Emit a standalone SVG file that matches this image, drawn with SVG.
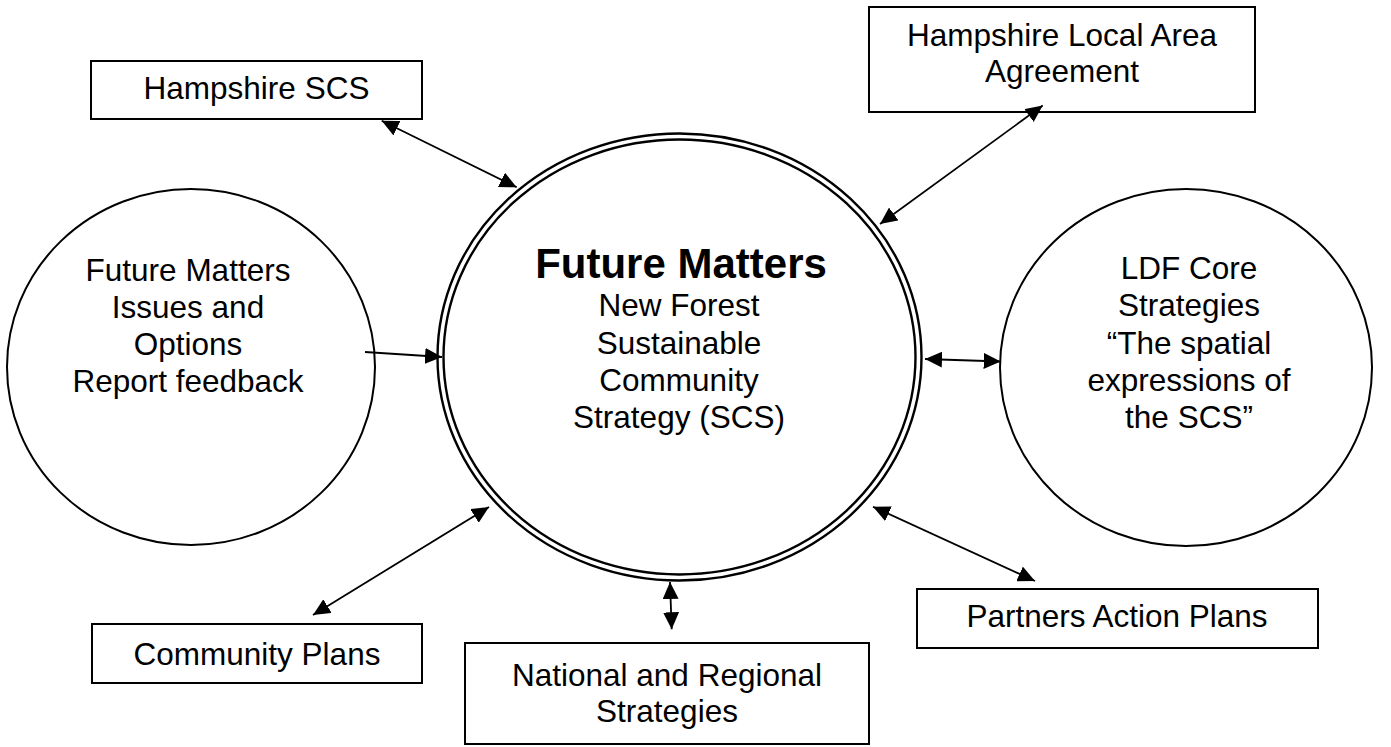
<svg xmlns="http://www.w3.org/2000/svg" width="1391" height="747" viewBox="0 0 1391 747">
  <style>
    .box { fill: #ffffff; stroke: #000000; stroke-width: 2; }
    .ring { fill: #ffffff; stroke: #000000; stroke-width: 2; }
    .dbl { fill: none; stroke: #000000; stroke-width: 2.4; }
    .txt { font-family: "Liberation Sans", Arial, sans-serif; font-size: 31.5px; fill: #000000; text-anchor: middle; }
    .title { font-family: "Liberation Sans", Arial, sans-serif; font-size: 42px; font-weight: bold; fill: #000000; text-anchor: middle; }
    .link { fill: none; stroke: #000000; stroke-width: 1.8; }
  </style>
  <defs>
    <marker id="head" markerUnits="userSpaceOnUse" markerWidth="18" markerHeight="16" refX="17" refY="8" orient="auto-start-reverse">
      <path d="M0,0 L17,8 L0,16 z" fill="#000000"/>
    </marker>
  </defs>
  <rect width="1391" height="747" fill="#ffffff"/>

  <g id="hampshire-scs">
    <rect class="box" x="91" y="61" width="331" height="58"/>
    <text class="txt" x="256.5" y="99">Hampshire SCS</text>
  </g>

  <g id="hampshire-laa">
    <rect class="box" x="869" y="7" width="386" height="105"/>
    <text class="txt" x="1062" y="46">Hampshire Local Area</text>
    <text class="txt" x="1062" y="82">Agreement</text>
  </g>

  <g id="issues-options">
    <ellipse class="ring" cx="191" cy="367" rx="184" ry="178"/>
    <text class="txt" x="188" y="281">Future Matters</text>
    <text class="txt" x="188" y="318">Issues and</text>
    <text class="txt" x="188" y="355">Options</text>
    <text class="txt" x="188" y="392">Report feedback</text>
  </g>

  <g id="future-matters">
    <ellipse class="dbl" cx="679.5" cy="357" rx="242" ry="223.5"/>
    <ellipse class="dbl" cx="679.5" cy="357" rx="236" ry="217.5"/>
    <text class="title" x="681" y="278">Future Matters</text>
    <text class="txt" x="679" y="316">New Forest</text>
    <text class="txt" x="679" y="354">Sustainable</text>
    <text class="txt" x="679" y="391">Community</text>
    <text class="txt" x="679" y="428">Strategy (SCS)</text>
  </g>

  <g id="ldf-core">
    <ellipse class="ring" cx="1186" cy="367.5" rx="186" ry="178.5"/>
    <text class="txt" x="1189" y="279">LDF Core</text>
    <text class="txt" x="1189" y="316">Strategies</text>
    <text class="txt" x="1189" y="354">“The spatial</text>
    <text class="txt" x="1189" y="391">expressions of</text>
    <text class="txt" x="1189" y="428">the SCS”</text>
  </g>

  <g id="community-plans">
    <rect class="box" x="92" y="624" width="330" height="59"/>
    <text class="txt" x="257" y="665">Community Plans</text>
  </g>

  <g id="national-regional">
    <rect class="box" x="465" y="643" width="404" height="101"/>
    <text class="txt" x="667" y="686">National and Regional</text>
    <text class="txt" x="667" y="722">Strategies</text>
  </g>

  <g id="partners-action">
    <rect class="box" x="917" y="589" width="401" height="59"/>
    <text class="txt" x="1117" y="627">Partners Action Plans</text>
  </g>

  <g id="connectors">
    <line class="link" x1="381.7" y1="120.7" x2="516.7" y2="187.3" marker-start="url(#head)" marker-end="url(#head)"/>
    <line class="link" x1="1042.7" y1="105.5" x2="880" y2="224" marker-start="url(#head)" marker-end="url(#head)"/>
    <line class="link" x1="365" y1="352" x2="442" y2="357" marker-end="url(#head)"/>
    <line class="link" x1="925" y1="359" x2="1000.7" y2="361.5" marker-start="url(#head)" marker-end="url(#head)"/>
    <line class="link" x1="489" y1="507" x2="313" y2="615" marker-start="url(#head)" marker-end="url(#head)"/>
    <line class="link" x1="670" y1="582" x2="671.7" y2="629.3" marker-start="url(#head)" marker-end="url(#head)"/>
    <line class="link" x1="873" y1="506.7" x2="1035" y2="581" marker-start="url(#head)" marker-end="url(#head)"/>
  </g>
</svg>
